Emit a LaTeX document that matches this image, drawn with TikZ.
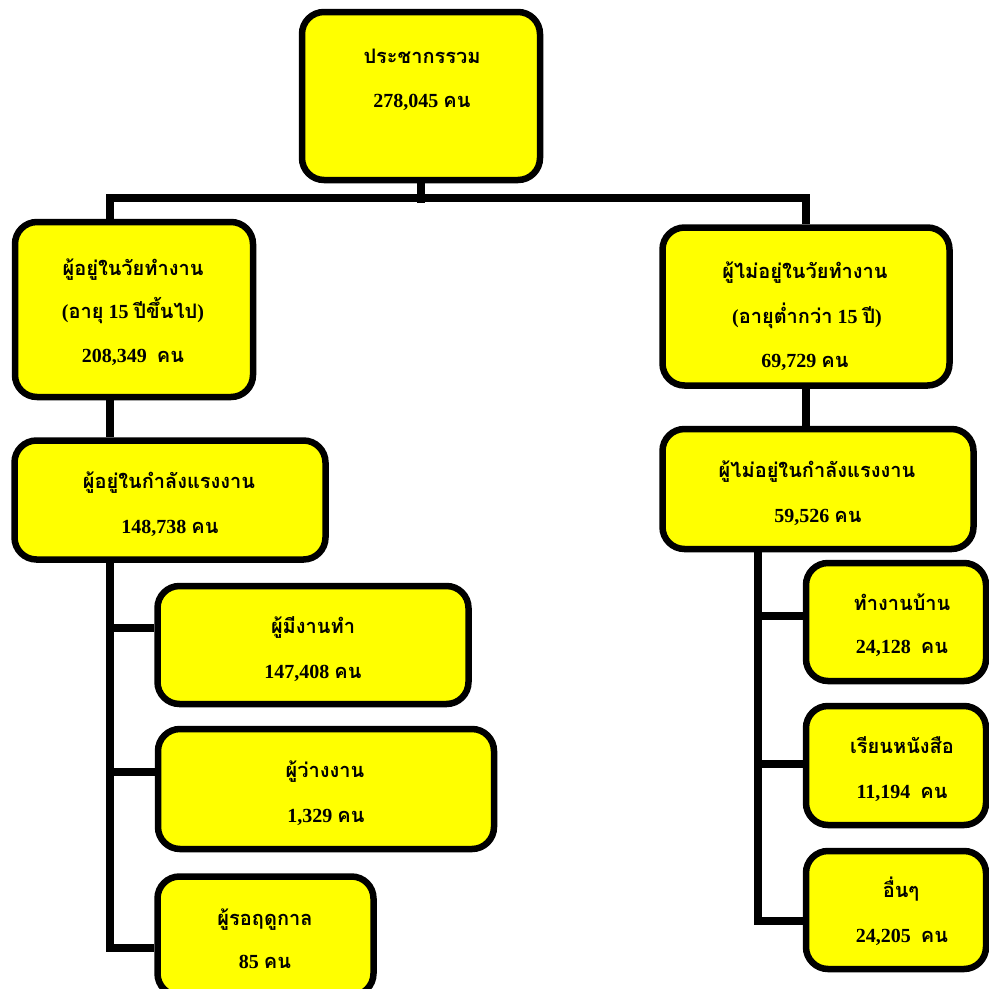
\documentclass[tikz,border=0pt]{standalone}
\usepackage{fontspec}
\setmainfont{Liberation Serif}
\newfontfamily\thaifont[Script=Thai]{Loma}
\newcommand\tx[1]{{\thaifont #1}}
\definecolor{boxyellow}{RGB}{255,255,0}
\pgfdeclarelayer{bg}
\pgfsetlayers{bg,main}
\begin{document}
\begin{tikzpicture}[x=1pt,y=-1pt,
  box/.style={draw=black, line width=6.5pt, fill=boxyellow, rounded corners=22pt, inner sep=0pt},
  conn/.style={draw=black, line width=7.5pt},
  lbl/.style={font=\bfseries\fontsize{20}{24}\selectfont, inner sep=0pt, anchor=base}]
\useasboundingbox (0,0) rectangle (989,989);
\clip (0,0) rectangle (989,989);

\coordinate (jL) at (110,198);
\coordinate (jR) at (806,198);
\coordinate (tL) at (110,0);
\coordinate (tR) at (758,0);

% boxes
\node[box, minimum width=238pt, minimum height=168pt] (top) at (421,96) {};
\node[box, minimum width=238pt, minimum height=175pt] (A) at (134,309.5) {};
\node[box, minimum width=311pt, minimum height=119pt] (C) at (170,500) {};
\node[box, minimum width=287pt, minimum height=158pt] (B) at (806,306.5) {};
\node[box, minimum width=311pt, minimum height=120pt] (D) at (818,489) {};
\node[box, minimum width=311pt, minimum height=118pt] (E) at (313,645) {};
\node[box, minimum width=336pt, minimum height=120pt] (F) at (326,789) {};
\node[box, minimum width=216pt, minimum height=119pt] (G) at (265.5,936) {};
\node[box, minimum width=180pt, minimum height=118pt] (H) at (896,622) {};
\node[box, minimum width=180pt, minimum height=119pt] (I) at (896,765.5) {};
\node[box, minimum width=180pt, minimum height=118pt] (J) at (896,910) {};

% tree lines, behind the boxes
\begin{pgfonlayer}{bg}
\draw[conn] (top.south) -- (top.south |- 0,203);
\draw[conn] ([xshift=-3.75pt]jL) -- ([xshift=3.75pt]jR);
\draw[conn] (jL) -- (jL |- A.north);
\draw[conn] (jR) -- (jR |- B.north);
\draw[conn] (A.south -| jL) -- (C.north -| jL);
\draw[conn] (B.south -| jR) -- (D.north -| jR);
% left trunk
\draw[conn] (C.south -| tL) -- (tL |- 0,951.75);
\draw[conn] (tL |- 0,628) -- (E.west |- 0,628);
\draw[conn] (tL |- 0,772) -- (F.west |- 0,772);
\draw[conn] ([xshift=-3.75pt]tL |- 0,948) -- (G.west |- 0,948);
% right trunk
\draw[conn] (D.south -| tR) -- (tR |- 0,924.75);
\draw[conn] (tR |- 0,616) -- (H.west |- 0,616);
\draw[conn] (tR |- 0,764) -- (I.west |- 0,764);
\draw[conn] ([xshift=-3.75pt]tR |- 0,921) -- (J.west |- 0,921);
\end{pgfonlayer}

% texts
\node[lbl] (t1a) at (422,63) {\tx{ประชากรรวม}};
\node[lbl] (t1b) at (422,107) {278,045 \tx{คน}};
\node[lbl] (tAa) at (133,275) {\tx{ผู้อยู่ในวัยทำงาน}};
\node[lbl] (tAb) at (133,318) {(\tx{อายุ} 15 \tx{ปีขึ้นไป})};
\node[lbl] (tAc) at (133,362) {208,349\ \ \tx{คน}};
\node[lbl] (tCa) at (169,488) {\tx{ผู้อยู่ในกำลังแรงงาน}};
\node[lbl] (tCb) at (170,533) {148,738 \tx{คน}};
\node[lbl] (tBa) at (805,278) {\tx{ผู้ไม่อยู่ในวัยทำงาน}};
\node[lbl] (tBb) at (807,323) {(\tx{อายุต่ำกว่า} 15 \tx{ปี})};
\node[lbl] (tBc) at (805,367) {69,729 \tx{คน}};
\node[lbl] (tDa) at (817,477) {\tx{ผู้ไม่อยู่ในกำลังแรงงาน}};
\node[lbl] (tDb) at (818,522) {59,526 \tx{คน}};
\node[lbl] (tEa) at (313,633) {\tx{ผู้มีงานทำ}};
\node[lbl] (tEb) at (313,678) {147,408 \tx{คน}};
\node[lbl] (tFa) at (325,777) {\tx{ผู้ว่างงาน}};
\node[lbl] (tFb) at (326,822) {1,329 \tx{คน}};
\node[lbl] (tGa) at (265,925) {\tx{ผู้รอฤดูกาล}};
\node[lbl] (tGb) at (265,968) {85 \tx{คน}};
\node[lbl] (tHa) at (902,610) {\tx{ทำงานบ้าน}};
\node[lbl] (tHb) at (902,653) {24,128\ \ \tx{คน}};
\node[lbl] (tIa) at (902,753) {\tx{เรียนหนังสือ}};
\node[lbl] (tIb) at (902,798) {11,194\ \ \tx{คน}};
\node[lbl] (tJa) at (901,897) {\tx{อื่นๆ}};
\node[lbl] (tJb) at (902,942) {24,205\ \ \tx{คน}};
\end{tikzpicture}
\end{document}
